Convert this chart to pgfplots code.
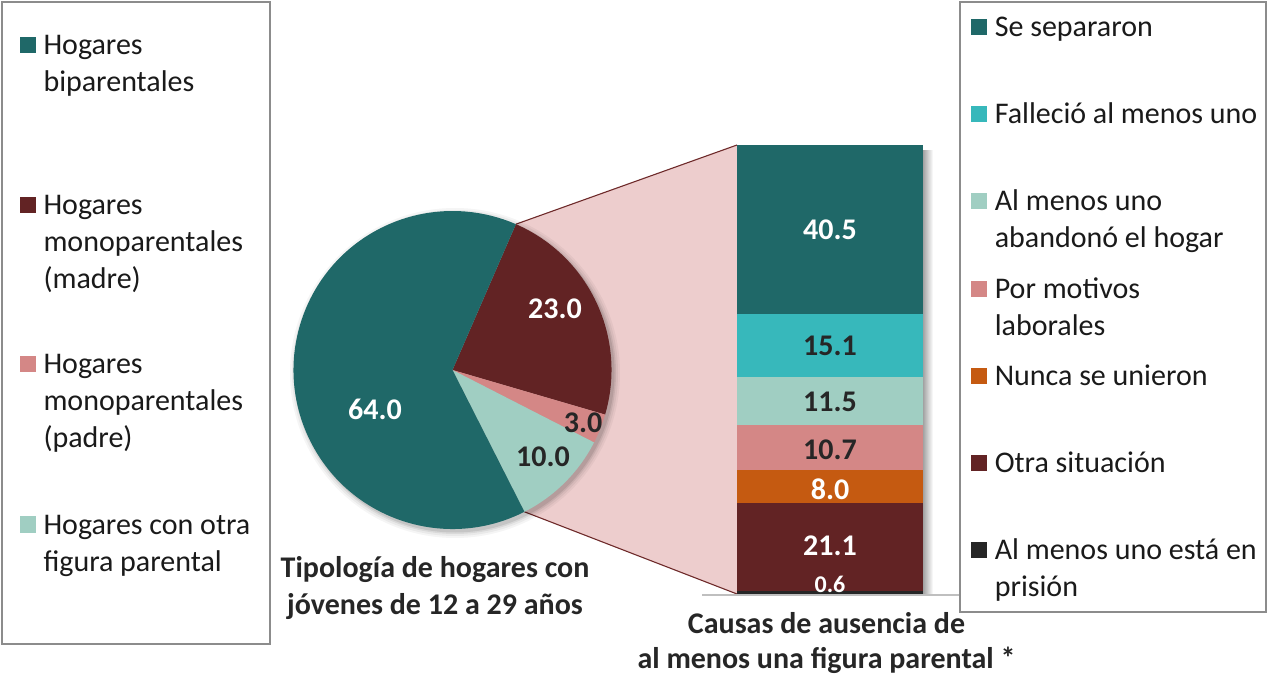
\documentclass[border=0pt]{standalone}
\usepackage{fontspec}
\setmainfont{Carlito}
\usepackage{pgfplots}
\pgfplotsset{compat=1.18}
\usetikzlibrary{calc}
\definecolor{cTeal}{HTML}{1F6868}
\definecolor{cDark}{HTML}{622324}
\definecolor{cPink}{HTML}{D48786}
\definecolor{cLight}{HTML}{A0CEC2}
\definecolor{cCyan}{HTML}{37B8BB}
\definecolor{cOrange}{HTML}{C55A11}
\definecolor{cBlack}{HTML}{262626}
\definecolor{cFillPink}{HTML}{EDCDCD}
\definecolor{cLine}{HTML}{6E2A2A}
\definecolor{cText}{HTML}{1A1A1A}
\definecolor{cBox}{HTML}{8C8C8C}
\newcommand\leg{\fontsize{30}{37}\selectfont}
\newcommand\num{\fontsize{30}{36}\selectfont\bfseries}
% pie data (percent)
\pgfmathsetmacro\aA{66.5}
\pgfmathsetmacro\aB{\aA-23.0*3.6}
\pgfmathsetmacro\aC{\aB-3.0*3.6}
\pgfmathsetmacro\aD{\aC-10.0*3.6}
\pgfmathsetmacro\aE{\aD-64.0*3.6}
\begin{document}
\begin{tikzpicture}[x=1pt,y=1pt]
\begin{axis}[at={(0,0)},anchor=south west,width=1267pt,height=673pt,scale only axis,
  xmin=0,xmax=1267,ymin=0,ymax=673,enlargelimits=false,hide axis,clip=false]
% connector
\coordinate (PC) at (axis cs:452.5,303);
\coordinate (PT) at ($(PC)+(\aA:159pt)$);
\coordinate (PB) at ($(PC)+(\aD:159pt)$);
\fill[cFillPink] (PT) -- (axis cs:737,528) -- (axis cs:737,79) -- (PB) -- (PC) -- cycle;
\draw[cLine,line width=1.1pt] (PT) -- (axis cs:737,528);
\draw[cLine,line width=1.1pt] (PB) -- (axis cs:737,79);
% pie shadow
\fill[black,opacity=0.04] ($(PC)+(2.5pt,-3pt)$) circle[radius=165pt];
\fill[black,opacity=0.05] ($(PC)+(2.5pt,-3pt)$) circle[radius=163pt];
\fill[black,opacity=0.07] ($(PC)+(2.5pt,-3pt)$) circle[radius=161pt];
\fill[black,opacity=0.09] ($(PC)+(2.5pt,-3pt)$) circle[radius=159.5pt];
% pie slices
\fill[cDark] (PC) -- ($(PC)+(\aA:159pt)$) arc[start angle=\aA,end angle=\aB,radius=159pt] -- cycle;
\fill[cPink] (PC) -- ($(PC)+(\aB:159pt)$) arc[start angle=\aB,end angle=\aC,radius=159pt] -- cycle;
\fill[cLight] (PC) -- ($(PC)+(\aC:159pt)$) arc[start angle=\aC,end angle=\aD,radius=159pt] -- cycle;
\fill[cTeal] (PC) -- ($(PC)+(\aD:159pt)$) arc[start angle=\aD,end angle=\aE,radius=159pt] -- cycle;
% pie labels
\node[font=\num,text=white] at (axis cs:375,264) {64.0};
\node[font=\num,text=white] at (axis cs:555,364) {23.0};
\node[font=\num,text=cBlack] at (axis cs:583,250) {3.0};
\node[font=\num,text=cBlack] at (axis cs:543,216.5) {10.0};
% bar shadow and baseline
\shade[left color=black!40,right color=white] (axis cs:922,79) rectangle (axis cs:933,522);
\draw[black!25,line width=1.5pt] (axis cs:702,78) -- (axis cs:960,78);
% titles
\node[font=\leg\bfseries,text=cBlack,anchor=base] at (axis cs:435,96) {Tipología de hogares con};
\node[font=\leg\bfseries,text=cBlack,anchor=base] at (axis cs:435,59) {jóvenes de 12 a 29 años};
\node[font=\leg\bfseries,text=cBlack,anchor=base] at (axis cs:826.5,40) {Causas de ausencia de};
\node[font=\leg\bfseries,text=cBlack,anchor=base] at (axis cs:826.5,5) {al menos una figura parental *};
% left legend
\draw[cBox,line width=1.3pt,fill=white] (axis cs:2,29) rectangle (axis cs:270,671);
\fill[cTeal] (axis cs:20,619.5) rectangle (axis cs:36,635.5);
\fill[cDark] (axis cs:20,460) rectangle (axis cs:36,476);
\fill[cPink] (axis cs:20,300.5) rectangle (axis cs:36,316.5);
\fill[cLight] (axis cs:20,140.5) rectangle (axis cs:36,156.5);
\node[font=\leg,text=cText,anchor=base west,inner sep=0pt] at (axis cs:43.3,618) {Hogares};
\node[font=\leg,text=cText,anchor=base west,inner sep=0pt] at (axis cs:43.3,581) {biparentales};
\node[font=\leg,text=cText,anchor=base west,inner sep=0pt] at (axis cs:43.3,458.5) {Hogares};
\node[font=\leg,text=cText,anchor=base west,inner sep=0pt] at (axis cs:43.3,421.5) {monoparentales};
\node[font=\leg,text=cText,anchor=base west,inner sep=0pt] at (axis cs:43.3,384.5) {(madre)};
\node[font=\leg,text=cText,anchor=base west,inner sep=0pt] at (axis cs:43.3,299) {Hogares};
\node[font=\leg,text=cText,anchor=base west,inner sep=0pt] at (axis cs:43.3,262) {monoparentales};
\node[font=\leg,text=cText,anchor=base west,inner sep=0pt] at (axis cs:43.3,225) {(padre)};
\node[font=\leg,text=cText,anchor=base west,inner sep=0pt] at (axis cs:43.3,139) {Hogares con otra};
\node[font=\leg,text=cText,anchor=base west,inner sep=0pt] at (axis cs:43.3,102) {figura parental};
% right legend
\draw[cBox,line width=1.3pt,fill=white] (axis cs:960,61) rectangle (axis cs:1266,671);
\fill[cTeal] (axis cs:971,638) rectangle (axis cs:987,654);
\fill[cCyan] (axis cs:971,550.8) rectangle (axis cs:987,566.8);
\fill[cLight] (axis cs:971,463.6) rectangle (axis cs:987,479.6);
\fill[cPink] (axis cs:971,376.4) rectangle (axis cs:987,392.4);
\fill[cOrange] (axis cs:971,289.2) rectangle (axis cs:987,305.2);
\fill[cDark] (axis cs:971,202) rectangle (axis cs:987,218);
\fill[cBlack] (axis cs:971,114.8) rectangle (axis cs:987,130.8);
\node[font=\leg,text=cText,anchor=base west,inner sep=0pt] at (axis cs:994.6,636.5) {Se separaron};
\node[font=\leg,text=cText,anchor=base west,inner sep=0pt] at (axis cs:994.6,549.3) {Falleció al menos uno};
\node[font=\leg,text=cText,anchor=base west,inner sep=0pt] at (axis cs:994.6,462.1) {Al menos uno};
\node[font=\leg,text=cText,anchor=base west,inner sep=0pt] at (axis cs:994.6,425.1) {abandonó el hogar};
\node[font=\leg,text=cText,anchor=base west,inner sep=0pt] at (axis cs:994.6,374.9) {Por motivos};
\node[font=\leg,text=cText,anchor=base west,inner sep=0pt] at (axis cs:994.6,337.9) {laborales};
\node[font=\leg,text=cText,anchor=base west,inner sep=0pt] at (axis cs:994.6,287.7) {Nunca se unieron};
\node[font=\leg,text=cText,anchor=base west,inner sep=0pt] at (axis cs:994.6,200.5) {Otra situación};
\node[font=\leg,text=cText,anchor=base west,inner sep=0pt] at (axis cs:994.6,113.3) {Al menos uno está en};
\node[font=\leg,text=cText,anchor=base west,inner sep=0pt] at (axis cs:994.6,76.3) {prisión};
\end{axis}
% stacked bar
\begin{axis}[at={(737pt,79pt)},anchor=south west,width=186pt,height=449pt,scale only axis,
  xmin=-0.5,xmax=0.5,ymin=0,ymax=107.5,enlargelimits=false,hide axis,clip=false,
  ybar stacked,bar width=186pt]
\addplot[fill=cBlack,draw=none] coordinates {(0,0.6)};
\addplot[fill=cDark,draw=none] coordinates {(0,21.1)};
\addplot[fill=cOrange,draw=none] coordinates {(0,8.0)};
\addplot[fill=cPink,draw=none] coordinates {(0,10.7)};
\addplot[fill=cLight,draw=none] coordinates {(0,11.5)};
\addplot[fill=cCyan,draw=none] coordinates {(0,15.1)};
\addplot[fill=cTeal,draw=none] coordinates {(0,40.5)};
\end{axis}
% bar value labels (same frame as the bar)
\begin{axis}[at={(737pt,79pt)},anchor=south west,width=186pt,height=449pt,scale only axis,
  xmin=-0.5,xmax=0.5,ymin=0,ymax=107.5,enlargelimits=false,hide axis,clip=false]
\node[font=\num,text=white] at (axis cs:0,87.3) {40.5};
\node[font=\num,text=cBlack] at (axis cs:0,59.3) {15.1};
\node[font=\num,text=cBlack] at (axis cs:0,45.9) {11.5};
\node[font=\num,text=cBlack] at (axis cs:0,34.6) {10.7};
\node[font=\num,text=white] at (axis cs:0,25.1) {8.0};
\node[font=\num,text=white] at (axis cs:0,11.6) {21.1};
\node[font=\fontsize{24}{28}\selectfont\bfseries,text=white] at (axis cs:0,2.4) {0.6};
\end{axis}
\pgfresetboundingbox
\path (0,0) rectangle (1267,673);
\end{tikzpicture}
\end{document}
